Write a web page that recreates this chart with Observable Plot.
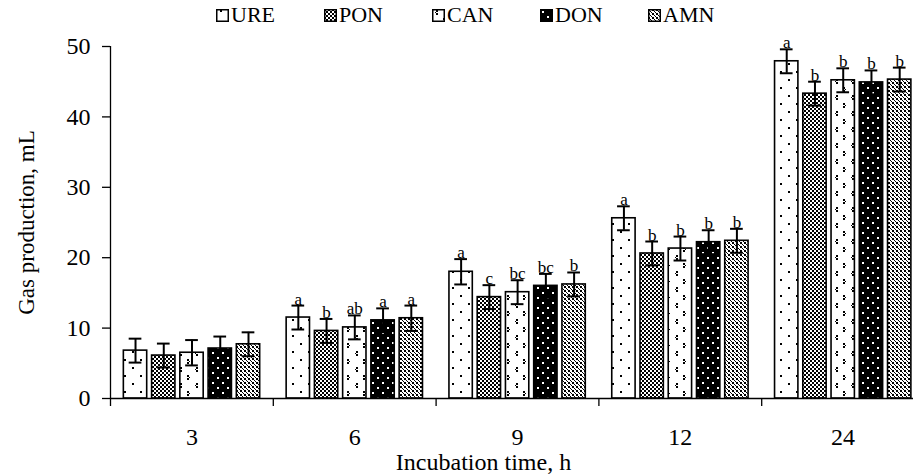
<!DOCTYPE html>
<html><head><meta charset="utf-8">
<script src="https://cdn.jsdelivr.net/npm/d3@7"></script>
<script src="https://cdn.jsdelivr.net/npm/@observablehq/plot@0.6"></script>
<style>
body{margin:0;background:#fff;font-family:"Liberation Serif","Times New Roman",serif;}
#legend{height:30px;display:flex;justify-content:flex-start;align-items:center;font-size:22px;color:#000;padding-left:216px;box-sizing:border-box;}
.item{display:flex;align-items:center;width:108px;}
.item svg{margin-right:2px;}
#chart svg{display:block;}
</style></head><body>
<div id="legend"></div><div id="chart"></div>
<script>
// ---- data ----
const times = ["3", "6", "9", "12", "24"];
const series = ["URE", "PON", "CAN", "DON", "AMN"];
const URE = [6.8, 11.5, 18.0, 25.6, 47.9];
const PON = [6.1, 9.6, 14.4, 20.6, 43.3];
const CAN = [6.5, 10.1, 15.1, 21.3, 45.2];
const DON = [7.1, 11.1, 16.0, 22.2, 44.9];
const AMN = [7.7, 11.4, 16.2, 22.4, 45.3];
const errURE = [1.7, 1.7, 1.8, 1.7, 1.7];
const errPON = [1.7, 1.7, 1.7, 1.7, 1.7];
const errCAN = [1.8, 1.7, 1.7, 1.7, 1.7];
const errDON = [1.7, 1.7, 1.7, 1.7, 1.7];
const errAMN = [1.7, 1.8, 1.7, 1.7, 1.7];
const letURE = ["", "a", "a", "a", "a"];
const letPON = ["", "b", "c", "b", "b"];
const letCAN = ["", "ab", "bc", "b", "b"];
const letDON = ["", "a", "bc", "b", "b"];
const letAMN = ["", "a", "b", "b", "b"];
const yTicks = [0, 10, 20, 30, 40, 50];

// ---- layout (fractions of one category band) ----
const groupOffset = 0.082, barStep = 0.1735, barWidth = 0.1434, capHalf = 0.039;

const values = {URE, PON, CAN, DON, AMN};
const errs = {URE: errURE, PON: errPON, CAN: errCAN, DON: errDON, AMN: errAMN};
const lets = {URE: letURE, PON: letPON, CAN: letCAN, DON: letDON, AMN: letAMN};

const table = [];
times.forEach((t, ci) => series.forEach((s, si) => {
  const x1 = ci + groupOffset + si * barStep;
  const x2 = x1 + barWidth;
  const xc = (x1 + x2) / 2;
  table.push({time: t, series: s, x1, x2, xc, cl: xc - capHalf, cr: xc + capHalf,
    value: values[s][ci], err: errs[s][ci], letter: lets[s][ci]});
}));

const bars = series.map(s => Plot.rectY(table.filter(d => d.series === s), {
  x1: "x1", x2: "x2", y: "value", fill: `url(#pat-${s})`, stroke: "black", strokeWidth: 1.6
}));

const FONT = "'Liberation Serif', 'Times New Roman', serif";
const chart = Plot.plot({
  width: 913, height: 446,
  marginLeft: 110, marginRight: -11, marginTop: 16, marginBottom: 78,
  style: {fontFamily: FONT, fontSize: "23px", color: "black", background: "white"},
  x: {domain: [0, times.length], axis: null},
  y: {domain: [0, 50], axis: null},
  marks: [
    ...bars,
    Plot.ruleX(table, {x: "xc", y1: d => d.value - d.err, y2: d => d.value + d.err, stroke: "black", strokeWidth: 2}),
    Plot.ruleY(table, {y: d => d.value + d.err, x1: "cl", x2: "cr", stroke: "black", strokeWidth: 2}),
    Plot.ruleY(table, {y: d => d.value - d.err, x1: "cl", x2: "cr", stroke: "black", strokeWidth: 2}),
    Plot.text(table, {x: "xc", y: d => d.value + d.err, text: "letter", lineAnchor: "bottom", dy: -1, fontSize: 17, fill: "black", fontFamily: FONT}),
    Plot.ruleX([0], {stroke: "black", strokeWidth: 1.3}),
    Plot.ruleY([0], {stroke: "black", strokeWidth: 1.3}),
    Plot.axisY({ticks: yTicks, tickSize: 8, tickPadding: 12, label: null, strokeWidth: 1.3, fontSize: 24, fontFamily: FONT, fill: "black"}),
    Plot.axisX({ticks: d3.range(times.length + 1), tickSize: 8, tickFormat: () => "", label: null, strokeWidth: 1.3}),
    Plot.axisX({ticks: times.map((t, i) => i + 0.5), tickSize: 0, tickPadding: 29, tickFormat: d => times[Math.floor(d)], label: null, fontSize: 24, fontFamily: FONT, fill: "black"}),
    Plot.text(["Incubation time, h"], {frameAnchor: "bottom", dy: 64, dx: -34, fontSize: 24, lineAnchor: "middle", textAnchor: "middle", fontFamily: FONT, fill: "black"}),
    Plot.text(["Gas production, mL"], {frameAnchor: "left", rotate: -90, dx: -84, fontSize: 23, lineAnchor: "middle", textAnchor: "middle", fontFamily: FONT, fill: "black"})
  ]
});

// patterns
const svg = d3.select(chart);
const defs = svg.insert("defs", ":first-child");
function pattern(id, w, h, bg, fg, rects) {
  const p = defs.append("pattern").attr("id", id).attr("patternUnits", "userSpaceOnUse")
    .attr("width", w).attr("height", h);
  p.append("rect").attr("width", w).attr("height", h).attr("fill", bg);
  rects.forEach(([x, y, rw, rh]) => p.append("rect").attr("x", x).attr("y", y)
    .attr("width", rw).attr("height", rh).attr("fill", fg).attr("shape-rendering", "crispEdges"));
}
pattern("pat-URE", 16, 16, "white", "black", [[4, 1, 2, 2], [12, 9, 2, 2]]);
pattern("pat-PON", 4, 4, "white", "black", [[0, 0, 2, 2], [2, 2, 2, 2]]);
pattern("pat-CAN", 16, 16, "white", "black", [[4, 1, 1.5, 1.5], [2.5, 2.5, 1.5, 1.5], [4, 4, 1.5, 1.5], [11, 9, 1.5, 1.5], [12.5, 10.5, 1.5, 1.5], [11, 12, 1.5, 1.5]]);
pattern("pat-DON", 10, 10, "black", "white", [[2, 2, 2, 2], [7, 7, 2, 2]]);
pattern("pat-AMN", 4, 4, "white", "black", [[0, 0, 2, 2], [2, 2, 1, 1], [3, 3, 1, 1]]);

document.getElementById("chart").appendChild(chart);

// legend
const legend = d3.select("#legend");
series.forEach(s => {
  const it = legend.append("div").attr("class", "item");
  const sw = it.append("svg").attr("width", 13).attr("height", 13);
  sw.append("rect").attr("x", 0.75).attr("y", 0.75).attr("width", 11.5).attr("height", 11.5)
    .attr("fill", `url(#pat-${s})`).attr("stroke", "black").attr("stroke-width", 1.5);
  it.append("span").text(s);
});
</script>
</body></html>
